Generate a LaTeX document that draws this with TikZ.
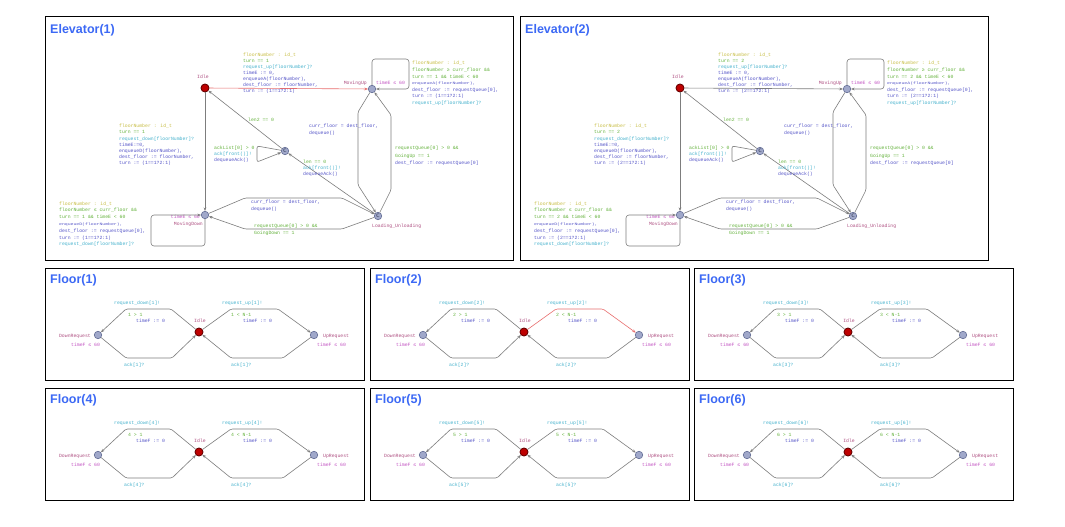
\documentclass[tikz,border=0pt]{standalone}
\usepackage{fontspec}
\setmainfont{Liberation Sans}
\newfontfamily\monof{Liberation Mono}
\usetikzlibrary{arrows.meta}
\definecolor{selc}{RGB}{200,190,70}
\definecolor{grdc}{RGB}{100,178,60}
\definecolor{syncc}{RGB}{70,178,205}
\definecolor{updc}{RGB}{85,85,200}
\definecolor{namec}{RGB}{175,80,130}
\definecolor{invc}{RGB}{195,85,195}
\definecolor{titc}{RGB}{60,105,245}
\definecolor{edgec}{RGB}{125,125,125}
\definecolor{redc}{RGB}{232,110,110}
\definecolor{locf}{RGB}{160,168,202}
\definecolor{locb}{RGB}{100,110,150}
\definecolor{inif}{RGB}{190,0,0}
\definecolor{inib}{RGB}{105,0,0}
\newcommand\lfs[1]{\monof\fontsize{4.8}{#1}\selectfont}
\newcommand\Csel[1]{\textcolor{selc}{#1}}
\newcommand\Cgrd[1]{\textcolor{grdc}{#1}}
\newcommand\Csyn[1]{\textcolor{syncc}{#1}}
\newcommand\Cupd[1]{\textcolor{updc}{#1}}
\newcommand\st{\rule{0pt}{3.6pt}}
\newcommand\sq[1]{\scalebox{1}[0.75]{#1}}
\tikzset{
  loc/.style={circle, draw=locb, fill=locf, minimum size=7.5pt, inner sep=0pt, line width=0.6pt},
  init/.style={circle, draw=inib, fill=inif, minimum size=8pt, inner sep=0pt, line width=0.9pt},
  com/.style={loc, font=\sffamily\fontsize{5}{5}\selectfont\bfseries, text=locb!70!black},
  edge/.style={draw=edgec, line width=0.6pt, rounded corners=1.5pt, -{Stealth[length=3.5pt,width=2.8pt]}},
  lab/.style={inner sep=0pt, font=\lfs{6}},
  nm/.style={lab, text=namec},
  inv/.style={lab, text=invc},
  panel/.style={draw=black, line width=0.8pt},
  title/.style={anchor=west, inner sep=0pt, text=titc, font=\bfseries\fontsize{12.5}{13}\selectfont},
}
\begin{document}
\begin{tikzpicture}[x=1pt,y=-1pt]
\useasboundingbox (0,0) rectangle (1065,527);
\fill[white] (0,0) rectangle (1065,527);
% ---------------- Elevators ----------------
\foreach \k/\dx/\ec in {1/0/redc, 2/475/edgec} {
\begin{scope}[shift={(\dx,0)}]
  \draw[panel] (45,16) rectangle (513,260);
  \node[title] (et\k) at (50,30) {Elevator(\k)};
  \node[init] (idle\k) at (205,88) {};
  \node[loc] (up\k) at (372,89) {};
  \node[loc] (dn\k) at (205,215) {};
  \node[com] (cc\k) at (285,151) {C};
  \node[com] (lu\k) at (378,216) {C};
  % location names and invariants
  \node[nm] (nidle\k) at (203,77) {Idle};
  \node[nm, anchor=east] (nup\k) at (367,83) {MovingUp};
  \node[inv, anchor=west] (iup\k) at (376,83) {timeE ≤ 60};
  \node[inv, anchor=east] (idn\k) at (200,217) {timeE ≤ 60};
  \node[nm, anchor=east] (ndn\k) at (203,224) {MovingDown};
  \node[nm, anchor=west] (nlu\k) at (372,226) {Loading\_Unloading};
  % edges
  \draw[edge, draw=\ec] (idle\k) -- (up\k);
  \draw[edge] (idle\k) -- (dn\k);
  \draw[edge, rounded corners=3pt] (up\k.north) -- (372,59) -- (409,59) -- (409,89) -- (up\k.east);
  \draw[edge, rounded corners=3pt] (dn\k.south) -- (205,246) -- (151,246) -- (151,215) -- (dn\k.west);
  \draw[edge] (cc\k) -- (idle\k);
  \draw[edge] (lu\k) -- (cc\k);
  \draw[edge, rounded corners=2pt] (cc\k) -- (257,146) -- (257,162) -- (cc\k);
  \draw[edge] (up\k) -- (358,112) -- (358,185) -- (lu\k);
  \draw[edge] (lu\k) -- (391,190) -- (391,115) -- (up\k);
  \draw[edge] (dn\k) -- (245,198) -- (342,198) -- (lu\k);
  \draw[edge] (lu\k) -- (342,229) -- (245,229) -- (dn\k);
  % edge labels
  \node[lab, anchor=north west, align=left, font=\lfs{6.1}] (b1\k) at (243,52.3) {\st\Csel{floorNumber : id\_t}\\\Cgrd{turn == \k}\\\Csyn{request\_up[floorNumber]?}\\\Cupd{timeE := 0,}\\\Cupd{enqueueA(floorNumber),}\\\Cupd{dest\_floor := floorNumber,}\\\Cupd{turn := (\k==1?2:1)}};
  \node[lab, anchor=north west, align=left, font=\lfs{6.1}] (b2\k) at (119,124) {\st\Csel{floorNumber : id\_t}\\\Cgrd{turn == \k}\\\Csyn{request\_down[floorNumber]?}\\\Cupd{timeE:=0,}\\\Cupd{enqueueD(floorNumber),}\\\Cupd{dest\_floor := floorNumber,}\\\Cupd{turn := (\k==1?2:1)}};
  \node[lab, anchor=north west, align=left, font=\lfs{6.6}] (b3\k) at (412,61) {\st\Csel{floorNumber : id\_t}\\\Cgrd{floorNumber ≥ curr\_floor \&\&}\\\Cgrd{turn == \k\ \&\& timeE < 60}\\\Cupd{\sq{enqueueA(floorNumber),}}\\\Cupd{dest\_floor := requestQueue[0],}\\\Cupd{turn := (\k==1?2:1)}\\\Csyn{request\_up[floorNumber]?}};
  \node[lab, anchor=north west, align=left, font=\lfs{6.8}] (b4\k) at (59,201.3) {\st\Csel{floorNumber : id\_t}\\\Cgrd{floorNumber ≤ curr\_floor \&\&}\\\Cgrd{turn == \k\ \&\& timeE < 60}\\\Cupd{\sq{enqueueD(floorNumber),}}\\\Cupd{dest\_floor := requestQueue[0],}\\\Cupd{turn := (\k==1?2:1)}\\\Csyn{request\_down[floorNumber]?}};
  \node[lab, anchor=west, text=grdc] (b5\k) at (248,120) {len2 == 0};
  \node[lab, anchor=north west, align=left, font=\lfs{6}] (b6\k) at (214,146) {\st\Cgrd{ackList[0] > 0}\\\Csyn{ack[front()]!}\\\Cupd{dequeueAck()}};
  \node[lab, anchor=north west, align=left, font=\lfs{6}] (b7\k) at (303,160) {\st\Cgrd{len == 0}\\\Csyn{ack[front()]!}\\\Cupd{dequeueAck()}};
  \node[lab, anchor=north west, align=left, font=\lfs{7}] (b8\k) at (309,124) {\st\Cupd{curr\_floor = dest\_floor,}\\\Cupd{dequeue()}};
  \node[lab, anchor=north west, align=left, font=\lfs{7.4}] (b9\k) at (395,146) {\st\Cgrd{requestQueue[0] > 0 \&\&}\\\Cgrd{GoingUp == 1}\\\Cupd{dest\_floor := requestQueue[0]}};
  \node[lab, anchor=north west, align=left, font=\lfs{6.6}] (b10\k) at (251,200) {\st\Cupd{curr\_floor = dest\_floor,}\\\Cupd{dequeue()}};
  \node[lab, anchor=north west, align=left, font=\lfs{7}] (b11\k) at (254,224) {\st\Cgrd{requestQueue[0] > 0 \&\&}\\\Cgrd{GoingDown == 1}};
\end{scope}
}
% ---------------- Floors ----------------
\foreach \f/\dx/\dy/\ec in {1/0/0/edgec, 2/325/0/redc, 3/649/0/edgec, 4/0/120/edgec, 5/325/120/edgec, 6/649/120/edgec} {
\begin{scope}[shift={(\dx,\dy)}]
  \draw[panel] (45,268) rectangle (364,380);
  \node[title] (ft\f) at (50,280) {Floor(\f)};
  \node[loc] (dr\f) at (98,335) {};
  \node[init] (fi\f) at (199,332) {};
  \node[loc] (ur\f) at (314,335) {};
  \node[nm] (nfi\f) at (200,321) {Idle};
  \node[nm, anchor=east] (ndr\f) at (91,336) {DownRequest};
  \node[inv, anchor=west] (idr\f) at (71,345) {timeF ≤ 60};
  \node[nm, anchor=west] (nur\f) at (323,336) {UpRequest};
  \node[inv, anchor=west] (iur\f) at (317,345) {timeF ≤ 60};
  \draw[edge] (fi\f) -- (171,309) -- (126,309) -- (dr\f);
  \draw[edge] (dr\f) -- (126,358) -- (172,358) -- (fi\f);
  \draw[edge, draw=\ec] (fi\f) -- (231,309) -- (278,309) -- (ur\f);
  \draw[edge] (ur\f) -- (283,358) -- (231,358) -- (fi\f);
  \node[lab, anchor=west, text=syncc] (sd\f) at (114,303) {request\_down[\f]!};
  \node[lab, anchor=west, text=grdc] (gd\f) at (128,315) {\f\ > 1};
  \node[lab, anchor=west, text=updc] (ud\f) at (136,321) {timeF := 0};
  \node[lab, anchor=west, text=syncc] (ad\f) at (124,365) {ack[\f]?};
  \node[lab, anchor=west, text=syncc] (su\f) at (222,303) {request\_up[\f]!};
  \node[lab, anchor=west, text=grdc] (gu\f) at (231,315) {\f\ < N-1};
  \node[lab, anchor=west, text=updc] (uu\f) at (243,321) {timeF := 0};
  \node[lab, anchor=west, text=syncc] (au\f) at (231,365) {ack[\f]?};
\end{scope}
}
\end{tikzpicture}
\end{document}
